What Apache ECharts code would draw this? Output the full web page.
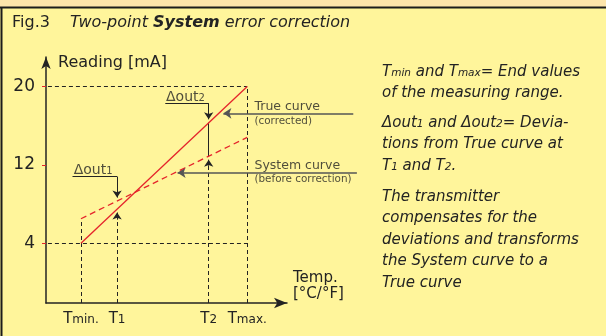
<!DOCTYPE html>
<html>
<head>
<meta charset="utf-8">
<script src="https://cdn.jsdelivr.net/npm/echarts@6/dist/echarts.min.js"></script>
<style>
  html, body { margin: 0; padding: 0; background: #fff59b; }
  #chart { width: 606px; height: 336px; }
</style>
</head>
<body>
<div id="chart"></div>
<script>
// x positions of the marked temperatures (arbitrary units along the Temp. axis)
const tickX = [14.5, 29.5, 67.5, 83.5];
const tickXNames = ['Tmin.', 'T1', 'T2', 'Tmax.'];
// reading axis
const tickY = [4, 12, 20];
const yMin = -2.1, yMax = 23;
// curves, value at Tmin and at Tmax
const trueCurve = [4, 20];
const systemCurve = [6.5, 14.8];

// annotation anchors (data units) and their texts
const noteText = ['{n|True curve}', '{s|(corrected)}', '{n|System curve}', '{s|(before correction)}',
  '{d|Δout}{ds|1}', '{d|Δout}{ds|2}'];
const notePos = [[86.5, 17.9], [86.5, 16.45], [86.5, 11.88], [86.5, 10.52], [11.5, 11.47], [49.8, 18.92]];

const FONT = 'DejaVu Sans';
const RED = '#e5242b';
const INK = '#232323';

const Tmin = tickX[0], T1 = tickX[1], T2 = tickX[2], Tmax = tickX[3];

// value of a straight curve at x
function at(vals, x) {
  const t = (x - Tmin) / (Tmax - Tmin);
  return vals[0] + (vals[1] - vals[0]) * t;
}
const seg = (a, b) => ({ coords: [a, b] });

const chart = echarts.init(document.getElementById('chart'));

const option = {
  animation: false,
  backgroundColor: '#fff59b',
  textStyle: { fontFamily: FONT },
  grid: { left: 46, right: 319, top: 57, bottom: 33 },
  xAxis: {
    type: 'value', min: 0, max: 100,
    name: 'Temp.\n[°C/°F]', nameLocation: 'end', nameGap: 6,
    nameTextStyle: { fontFamily: FONT, fontSize: 15, color: INK, align: 'left', verticalAlign: 'bottom', lineHeight: 16, padding: [0, 0, 1, 0] },
    axisLine: { onZero: false, symbol: ['none', 'arrow'], symbolSize: [8, 13], lineStyle: { color: INK, width: 1.5 } },
    axisTick: { show: false },
    splitLine: { show: false },
    axisLabel: {
      customValues: tickX, margin: 7,
      formatter: v => { const s = tickXNames[tickX.indexOf(v)]; return '{t|' + s[0] + '}{s|' + s.slice(1) + '}'; },
      rich: {
        t: { fontFamily: FONT, fontSize: 15, color: INK, lineHeight: 18 },
        s: { fontFamily: FONT, fontSize: 12, color: INK, lineHeight: 18, padding: [2, 0, 0, 0] }
      }
    }
  },
  yAxis: {
    type: 'value', min: yMin, max: yMax,
    name: 'Reading [mA]', nameLocation: 'end', nameGap: -6,
    nameTextStyle: { fontFamily: FONT, fontSize: 16, color: INK, align: 'left', verticalAlign: 'middle', padding: [0, 0, 0, 12] },
    axisLine: { onZero: false, symbol: ['none', 'arrow'], symbolSize: [7, 12], lineStyle: { color: INK, width: 1.5 } },
    axisTick: { show: true, customValues: tickY, length: 4, lineStyle: { color: RED, width: 1 } },
    splitLine: { show: false },
    axisLabel: { customValues: tickY, margin: 11, fontFamily: FONT, fontSize: 17, color: INK }
  },
  series: [
    {
      name: 'True curve', type: 'line', symbol: 'none', silent: true, clip: false,
      data: [[Tmin, trueCurve[0]], [Tmax, trueCurve[1]]],
      lineStyle: { color: RED, width: 1.3 }
    },
    {
      name: 'System curve', type: 'line', symbol: 'none', silent: true, clip: false,
      data: [[Tmin, systemCurve[0]], [Tmax, systemCurve[1]]],
      lineStyle: { color: RED, width: 1.3, type: [6, 4] }
    },
    {
      // dashed guide lines
      type: 'lines', coordinateSystem: 'cartesian2d', silent: true, clip: false,
      symbol: 'none',
      lineStyle: { color: INK, width: 1, type: [4, 3], opacity: 1 },
      data: [
        seg([0.8, tickY[2]], [Tmax, tickY[2]]),
        seg([0.8, tickY[0]], [Tmax, tickY[0]]),
        seg([Tmin, yMin], [Tmin, systemCurve[0]]),
        seg([Tmax, yMin], [Tmax, trueCurve[1]]),
        seg([T1, yMin], [T1, 6.4]),
        seg([T2, yMin], [T2, 11.9])
      ]
    },
    {
      // plain solid dimension lines
      type: 'lines', coordinateSystem: 'cartesian2d', silent: true, clip: false,
      symbol: 'none',
      lineStyle: { color: INK, width: 1, opacity: 1 },
      data: [
        seg([11.0, 10.8], [T1, 10.8]),
        seg([49.5, 18.28], [T2, 18.28]),
        seg([T2, at(trueCurve, T2)], [T2, at(systemCurve, T2)])
      ]
    },
    {
      // dimension arrows pointing at the curves
      type: 'lines', coordinateSystem: 'cartesian2d', silent: true, clip: false,
      symbol: ['none', 'arrow'], symbolSize: 7,
      lineStyle: { color: INK, width: 1, opacity: 1 },
      data: [
        seg([T1, 10.8], [T1, at(systemCurve, T1) + 0.35]),
        seg([T1, 6.4], [T1, at(trueCurve, T1) - 0.35]),
        seg([T2, 18.28], [T2, at(trueCurve, T2) + 0.35]),
        seg([T2, 11.9], [T2, at(systemCurve, T2) - 0.35])
      ]
    },
    {
      // leaders to the curve names
      type: 'lines', coordinateSystem: 'cartesian2d', silent: true, clip: false,
      symbol: ['none', 'arrow'], symbolSize: 8,
      lineStyle: { color: '#555', width: 1.6, opacity: 1 },
      data: [
        seg([127.5, 17.25], [73.6, 17.25]),
        seg([129, 11.2], [54.6, 11.2])
      ]
    },
    {
      type: 'scatter', symbolSize: 0, silent: true, clip: false,
      data: notePos.map((p, i) => ({
        value: p,
        label: { formatter: noteText[i] }
      })),
      label: {
        show: true, position: [0, 0], align: 'left', verticalAlign: 'middle',
        rich: {
          n: { fontFamily: FONT, fontSize: 12.5, color: INK, lineHeight: 14 },
          s: { fontFamily: FONT, fontSize: 10.4, color: INK, lineHeight: 12 },
          d: { fontFamily: FONT, fontSize: 14, color: INK, lineHeight: 16 },
          ds: { fontFamily: FONT, fontSize: 10, color: INK, lineHeight: 16, padding: [3, 0, 0, 0] }
        }
      }
    }
  ],
  graphic: [
    { type: 'rect', silent: true, shape: { x: 0, y: 0, width: 606, height: 7 }, style: { fill: '#fde5ab' } },
    { type: 'line', silent: true, shape: { x1: 0, y1: 7.5, x2: 606, y2: 7.5 }, style: { stroke: '#1c1c1c', lineWidth: 2 } },
    { type: 'line', silent: true, shape: { x1: 1.5, y1: 7, x2: 1.5, y2: 336 }, style: { stroke: '#1c1c1c', lineWidth: 2 } },
    {
      type: 'text', silent: true, x: 12, y: 23,
      style: { text: 'Fig.3', fontFamily: FONT, fontSize: 16, fill: INK, verticalAlign: 'middle' }
    },
    {
      type: 'text', silent: true, x: 70, y: 23,
      style: {
        text: '{i|Two-point }{b|System}{i| error correction}', verticalAlign: 'middle',
        rich: {
          i: { fontFamily: FONT, fontSize: 16, fontStyle: 'italic', fill: INK },
          b: { fontFamily: FONT, fontSize: 16, fontStyle: 'italic', fontWeight: 'bold', fill: INK }
        }
      }
    },
    ...[
      ['{n|T}{s|min}{n| and T}{s|max}{n|= End values}\n{n|of the measuring range.}', 61],
      ['{n|Δout}{s|1}{n| and Δout}{s|2}{n|= Devia-}\n{n|tions from True curve at}\n{n|T}{s|1}{n| and T}{s|2}{n|.}', 112],
      ['{n|The transmitter}\n{n|compensates for the}\n{n|deviations and transforms}\n{n|the System curve to a}\n{n|True curve}', 186]
    ].map(([text, top]) => ({
      type: 'text', silent: true, x: 382, y: top,
      style: {
        text: text, verticalAlign: 'top',
        rich: {
          n: { fontFamily: FONT, fontSize: 15, fontStyle: 'italic', fill: INK, lineHeight: 21.5 },
          s: { fontFamily: FONT, fontSize: 10.5, fontStyle: 'italic', fill: INK, lineHeight: 21.5, padding: [3, 0, 0, 0] }
        }
      }
    }))
  ]
};

chart.setOption(option);
</script>
</body>
</html>
